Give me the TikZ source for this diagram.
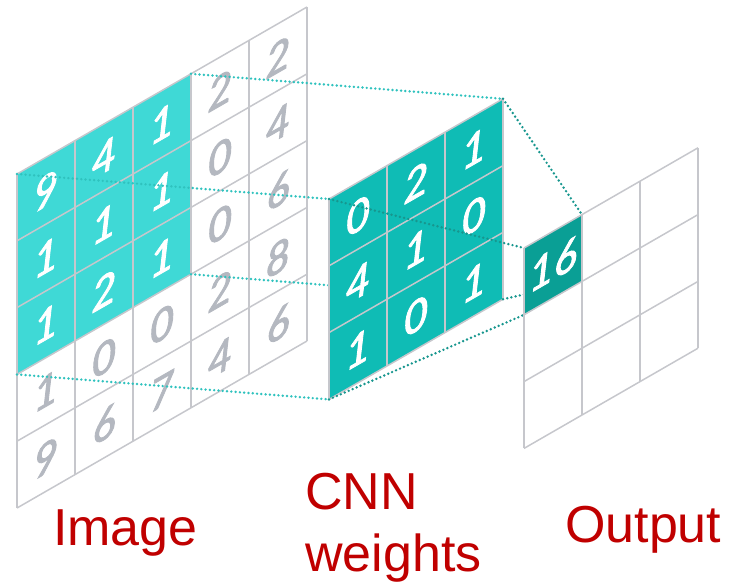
\documentclass[tikz,border=0pt]{standalone}
\usepackage{fontspec}
\setmainfont{Liberation Sans}
\newfontfamily\digitfont{Lato}[FakeBold=2.2,ItalicFeatures={FakeBold=2.2}]
\definecolor{imgteal}{HTML}{3FD9D6}
\definecolor{cnnteal}{HTML}{0FBCB5}
\definecolor{outteal}{HTML}{0A9F95}
\definecolor{gridgray}{HTML}{C6C7CC}
\definecolor{digitgray}{HTML}{B4B8C0}
\definecolor{dotlight}{HTML}{2FC2BE}
\definecolor{dotdark}{HTML}{17968E}
\definecolor{labelred}{HTML}{C00000}
\tikzset{
  gridline/.style={draw=gridgray, line width=1.5pt},
  digit/.style={font=\digitfont\itshape\fontsize{43}{43}\selectfont, inner sep=0pt, anchor=center, yslant=0.576, transform shape},
  dotline/.style={line width=2.7pt, line cap=round, dash pattern=on 0pt off 4.3pt},
  lbl/.style={font=\fontsize{52}{62}\selectfont, text=labelred, inner sep=0pt, anchor=base west},
  gridsys/.style={x={(58pt,33.4pt)}, y={(0pt,-66.8pt)}}
}
\begin{document}
\begin{tikzpicture}[x=1pt,y=-1pt]
\useasboundingbox (0,0) rectangle (738,584);
% ---------- corner coordinates ----------
\begin{scope}[shift={(17,174)},gridsys]
  \foreach \i in {0,...,5}{\foreach \j in {0,...,5}{\coordinate (img-\i-\j) at (\i,\j);}}
\end{scope}
\begin{scope}[shift={(329,199)},gridsys]
  \foreach \i in {0,...,3}{\foreach \j in {0,...,3}{\coordinate (cnn-\i-\j) at (\i,\j);}}
\end{scope}
\begin{scope}[shift={(524,248)},gridsys]
  \foreach \i in {0,...,3}{\foreach \j in {0,...,3}{\coordinate (out-\i-\j) at (\i,\j);}}
\end{scope}
% ---------- image ----------
\fill[imgteal] (img-0-0) -- (img-3-0) -- (img-3-3) -- (img-0-3) -- cycle;
\foreach \i in {0,...,5}{
  \draw[gridline] (img-\i-0) -- (img-\i-5);
  \draw[gridline] (img-0-\i) -- (img-5-\i);
}
\begin{scope}[shift={(17,174)},gridsys]
\foreach \r/\row in {1/{9,4,1,2,2},2/{1,1,1,0,4},3/{1,2,1,0,6},4/{1,0,0,2,8},5/{9,6,7,4,6}}{
  \foreach \v [count=\c] in \row {
    \ifnum\c<4 \ifnum\r<4 \def\dcol{white}\else\def\dcol{digitgray}\fi\else\def\dcol{digitgray}\fi
    \node[digit,text=\dcol] (img-n-\c-\r) at (\c-0.5,\r-0.5) {\v};
  }
}
\end{scope}
% ---------- image -> weights ----------
\draw[dotline,dotlight] (img-0-0) -- (cnn-0-0);
\draw[dotline,dotlight] (img-3-0) -- (cnn-3-0);
\draw[dotline,dotlight] (img-0-3) -- (cnn-0-3);
\draw[dotline,dotlight] (img-3-3) -- (cnn-3-3);
% ---------- weights ----------
\fill[cnnteal] (cnn-0-0) -- (cnn-3-0) -- (cnn-3-3) -- (cnn-0-3) -- cycle;
\foreach \i in {0,...,3}{
  \draw[gridline] (cnn-\i-0) -- (cnn-\i-3);
  \draw[gridline] (cnn-0-\i) -- (cnn-3-\i);
}
\begin{scope}[shift={(329,199)},gridsys]
\foreach \r/\row in {1/{0,2,1},2/{4,1,0},3/{1,0,1}}{
  \foreach \v [count=\c] in \row {
    \node[digit,text=white] (cnn-n-\c-\r) at (\c-0.5,\r-0.5) {\v};
  }
}
\end{scope}
% ---------- weights -> output ----------
\draw[dotline,dotdark] (cnn-0-0) -- (out-0-0);
\draw[dotline,dotdark] (cnn-3-0) -- (out-1-0);
\draw[dotline,dotdark] (cnn-0-3) -- (out-0-1);
\draw[dotline,dotdark] (cnn-3-3) -- (out-1-1);
% ---------- output ----------
\fill[outteal] (out-0-0) -- (out-1-0) -- (out-1-1) -- (out-0-1) -- cycle;
\foreach \i in {0,...,3}{
  \draw[gridline] (out-\i-0) -- (out-\i-3);
  \draw[gridline] (out-0-\i) -- (out-3-\i);
}
\begin{scope}[shift={(524,248)},gridsys]
  \node[digit,text=white] (out-n-1-1) at (0.5,0.5) {16};
\end{scope}
% ---------- labels ----------
\node[lbl] (lab-img) at (53,545) {Image};
\node[lbl,align=left] (lab-cnn) at (305,571) {CNN\\weights};
\node[lbl] (lab-out) at (565,542) {Output};
\end{tikzpicture}
\end{document}
